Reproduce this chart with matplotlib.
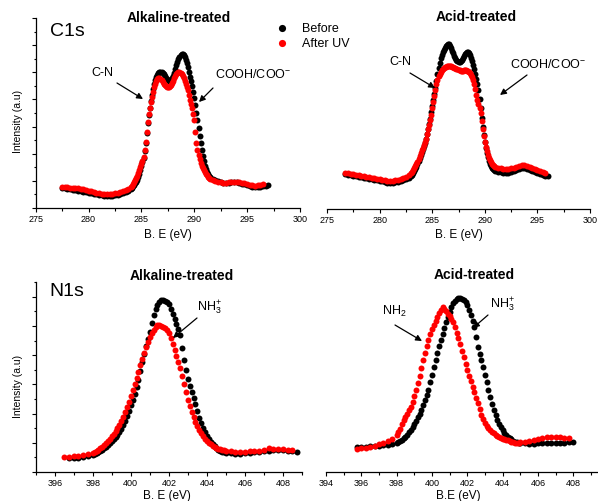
import numpy as np
import matplotlib
matplotlib.use("Agg")
import matplotlib.pyplot as plt
from matplotlib.ticker import MultipleLocator
from matplotlib.patches import FancyArrowPatch

plt.rcParams['font.family'] = ['Liberation Sans', 'DejaVu Sans']
plt.rcParams['mathtext.fontset'] = 'custom'
plt.rcParams['mathtext.rm'] = 'Liberation Sans'
plt.rcParams['mathtext.it'] = 'Liberation Sans:italic'
plt.rcParams['mathtext.bf'] = 'Liberation Sans:bold'


def grid(*segs):
    """Uniform binding-energy sampling grid built from (start, stop, step) segments."""
    return np.concatenate([np.round(np.arange(a, b + s / 2, s), 2) for a, b, s in segs])


# ---------------- DATA ----------------
# C1s, alkaline-treated
c1s_alk_before_E = grid((277.5, 284.0, 0.25), (284.1, 291.5, 0.1), (291.75, 297.0, 0.25))
c1s_alk_before_I = [20, 20, 19, 19, 18, 18, 17, 17, 16, 16, 15, 15, 14, 14, 13, 13, 12, 12, 12, 12, 13, 13, 14, 15, 16, 17, 19,
                    20, 22, 23, 25, 26, 28, 31, 34, 38,
                    42, 46, 50, 57, 65, 75, 85, 93, 100, 107,
                    113, 119, 124, 128, 131, 133, 135, 136, 136, 136,
                    135, 134, 132, 130, 129, 128, 127, 127, 128, 130,
                    132, 135, 139, 143, 146, 149, 151, 153, 154, 154,
                    153, 151, 148, 145, 141, 136, 131, 127, 122, 116,
                    110, 103, 95, 88, 80, 72, 65, 58, 52, 47,
                    42, 39, 36, 34, 32, 31,
                    29, 28, 27, 26, 25, 25, 25, 26, 26, 26, 25, 24, 24, 23, 22, 21, 21, 21, 21, 22, 22, 23]
c1s_alk_after_E = grid((277.5, 284.0, 0.25), (284.1, 291.5, 0.1), (291.75, 296.5, 0.25))
c1s_alk_after_I = [21, 21, 21, 20, 20, 20, 20, 19, 19, 18, 17, 17, 16, 15, 15, 14, 14, 14, 14, 14, 15, 15, 16, 17, 18, 19, 21,
                   22, 24, 26, 28, 30, 32, 35, 38, 41,
                   44, 47, 51, 58, 66, 76, 86, 94, 100, 106,
                   111, 116, 121, 124, 127, 129, 130, 130, 129, 128,
                   126, 124, 123, 122, 121, 121, 121, 122, 123, 125,
                   127, 130, 132, 134, 135, 136, 136, 135, 134, 132,
                   130, 127, 124, 121, 118, 113, 108, 104, 100, 94,
                   88, 76, 65, 58, 53, 49, 45, 42, 40, 38,
                   36, 34, 33, 31, 30, 29,
                   28, 27, 26, 26, 25, 25, 26, 26, 26, 26, 26, 25, 25, 24, 23, 23, 22, 23, 23, 24]

# C1s, acid-treated
c1s_acid_before_E = grid((276.75, 283.0, 0.25), (283.1, 291.0, 0.1), (291.25, 296.0, 0.25))
c1s_acid_before_I = [35, 34, 34, 33, 33, 32, 32, 31, 31, 30, 30, 29, 29, 28, 28, 27, 26, 26, 26, 27, 27, 28, 29, 30, 31, 33,
                     34, 36, 38, 40, 42, 45, 48, 51, 54,
                     57, 60, 63, 66, 70, 75, 80, 85, 90, 96,
                     102, 108, 114, 120, 127, 134, 140, 145, 150, 153,
                     156, 158, 160, 162, 163, 164, 164, 162, 160, 157,
                     155, 152, 150, 148, 147, 146, 146, 147, 148, 150,
                     152, 154, 155, 156, 156, 155, 153, 150, 147, 143,
                     139, 134, 129, 124, 118, 109, 100, 91, 82, 74,
                     67, 61, 56, 52, 48, 45, 43, 41, 40, 39,
                     38,
                     37, 37, 36, 36, 36, 37, 38, 39, 40, 41, 41, 40, 39, 38, 37, 36, 35, 34, 33, 33]
c1s_acid_after_E = grid((276.75, 283.0, 0.25), (283.1, 291.0, 0.1), (291.25, 295.75, 0.25))
c1s_acid_after_I = [36, 36, 35, 35, 34, 34, 33, 33, 32, 32, 31, 31, 30, 30, 29, 29, 28, 28, 28, 29, 29, 30, 31, 32, 34, 36,
                    37, 39, 41, 43, 45, 47, 50, 53, 56,
                    59, 61, 64, 67, 70, 75, 80, 84, 89, 94,
                    100, 106, 112, 118, 124, 128, 132, 134, 136, 138,
                    139, 140, 141, 141, 142, 142, 142, 142, 142, 141,
                    141, 140, 140, 139, 139, 138, 138, 137, 137, 137,
                    138, 138, 138, 137, 137, 136, 135, 133, 131, 128,
                    124, 119, 113, 108, 104, 100, 95, 88, 80, 73,
                    67, 62, 58, 54, 51, 49, 47, 45, 44, 43,
                    42,
                    41, 41, 40, 40, 40, 41, 41, 42, 43, 44, 44, 43, 42, 41, 40, 39, 38, 37, 36]

# N1s, alkaline-treated
n1s_alk_before_E = grid((396.75, 398.0, 0.25), (398.1, 405.0, 0.1), (405.25, 408.75, 0.25))
n1s_alk_before_I = [14, 14, 14, 15, 16, 17,
                    18, 19, 20, 21, 22, 24, 25, 27, 29,
                    31, 33, 35, 37, 40, 43, 47, 51, 56, 61,
                    67, 72, 78, 85, 92, 101, 110, 118, 126, 133,
                    140, 149, 157, 163, 167, 170, 172, 172, 171, 170,
                    168, 163, 158, 153, 148, 143, 137, 124, 112, 102,
                    93, 86, 80, 74, 68, 61, 54, 49, 44, 40,
                    36, 33, 30, 28, 26, 24, 22, 21, 20, 20,
                    19,
                    19, 18, 18, 19, 19, 20, 20, 21, 21, 22, 22, 22, 21, 21, 20]
n1s_alk_after_E = grid((396.5, 398.0, 0.25), (398.1, 405.0, 0.1), (405.25, 408.5, 0.25))
n1s_alk_after_I = [15, 15, 16, 16, 17, 18, 19,
                   20, 21, 22, 24, 25, 27, 29, 31, 33,
                   36, 38, 41, 44, 47, 51, 55, 60, 65, 70,
                   76, 82, 88, 94, 100, 107, 113, 119, 125, 130,
                   135, 139, 142, 145, 147, 147, 146, 145, 144, 142,
                   139, 134, 128, 122, 116, 110, 104, 96, 88, 80,
                   72, 66, 60, 55, 50, 46, 42, 39, 36, 33,
                   31, 29, 28, 26, 25, 24, 23, 23, 22, 22,
                   21,
                   21, 20, 20, 20, 21, 21, 21, 22, 24, 23, 23, 23, 22, 22]

# N1s, acid-treated
n1s_acid_before_E = grid((395.75, 398.0, 0.25), (398.1, 405.0, 0.1), (405.25, 408.0, 0.25))
n1s_acid_before_I = [25, 25, 25, 26, 26, 26, 27, 27, 28, 29,
                     30, 31, 32, 34, 35, 37, 40, 42, 45,
                     48, 51, 55, 58, 62, 67, 72, 77, 82, 90,
                     97, 105, 112, 119, 126, 132, 138, 144, 150, 155,
                     160, 165, 169, 171, 173, 174, 174, 173, 172, 170,
                     167, 162, 157, 151, 145, 135, 125, 118, 112, 105,
                     97, 90, 82, 75, 68, 62, 57, 52, 48, 45,
                     42, 39, 37, 35, 34, 33, 31, 30, 30, 29,
                     29,
                     29, 28, 28, 29, 29, 29, 29, 29, 29, 29, 30, 30]
n1s_acid_after_E = grid((395.75, 398.0, 0.25), (398.1, 405.0, 0.1), (405.25, 407.75, 0.25))
n1s_acid_after_I = [23, 24, 24, 25, 26, 28, 29, 31, 33, 37,
                    40, 43, 48, 52, 55, 58, 62, 65, 70,
                    76, 82, 89, 96, 104, 112, 119, 126, 132, 138,
                    143, 147, 151, 155, 159, 162, 165, 163, 161, 158,
                    156, 153, 150, 145, 139, 134, 128, 121, 115, 108,
                    102, 96, 91, 85, 80, 74, 69, 63, 57, 53,
                    49, 46, 44, 42, 40, 39, 37, 36, 35, 34,
                    33, 33, 32, 32, 31, 30, 30, 29, 29, 29,
                    30,
                    30, 31, 32, 33, 34, 35, 35, 35, 35, 34, 34]

panel_titles = ["Alkaline-treated", "Acid-treated", "Alkaline-treated", "Acid-treated"]
series_labels = ["Before", "After UV"]
x_labels = ["B. E (eV)", "B. E (eV)", "B. E (eV)", "B.E (eV)"]
y_label = "Intensity (a.u)"

# ---------------- FIGURE ----------------
W, H = 598, 501
fig = plt.figure(figsize=(W / 100, H / 100), dpi=100)


def box(l, r, t, b):
    return [l / W, 1 - b / H, (r - l) / W, (b - t) / H]


def fp(x, y):
    return (x / W, 1 - y / H)


ax_tl = fig.add_axes(box(35.7, 300, 18, 208))
ax_tr = fig.add_axes(box(327, 590, 18, 209))
ax_bl = fig.add_axes(box(35.7, 302, 282, 472))
ax_br = fig.add_axes(box(326, 598, 282, 472))

BLACK = "#000000"
RED = "#ff0000"
MS = 4.3

panels = [
    (ax_tl, c1s_alk_before_E, c1s_alk_before_I, c1s_alk_after_E, c1s_alk_after_I, (275, 300), 5, 2.5),
    (ax_tr, c1s_acid_before_E, c1s_acid_before_I, c1s_acid_after_E, c1s_acid_after_I, (275, 300), 5, 2.5),
    (ax_bl, n1s_alk_before_E, n1s_alk_before_I, n1s_alk_after_E, n1s_alk_after_I, (395, 409), 2, 1),
    (ax_br, n1s_acid_before_E, n1s_acid_before_I, n1s_acid_after_E, n1s_acid_after_I, (394, 409.4), 2, 1),
]

handles = None
for i, (ax, bE, bI, aE, aI, xl, maj, mnr) in enumerate(panels):
    h1, = ax.plot(bE, bI, 'o', color=BLACK, ms=MS, mew=0, ls='none')
    h2, = ax.plot(aE, aI, 'o', color=RED, ms=MS, mew=0, ls='none')
    if handles is None:
        handles = [h1, h2]
    ax.set_xlim(*xl)
    ax.set_ylim(0, 190)
    ax.xaxis.set_major_locator(MultipleLocator(maj))
    ax.xaxis.set_minor_locator(MultipleLocator(mnr))
    for s in ['top', 'right']:
        ax.spines[s].set_visible(False)
    for s in ['left', 'bottom']:
        ax.spines[s].set_linewidth(0.9)
    ax.tick_params(axis='x', which='major', direction='out', length=3, width=0.8, labelsize=6.5, pad=2)
    ax.tick_params(axis='x', which='minor', direction='out', length=1.8, width=0.8)
    if i in (0, 2):
        step = 190 / 7 if i == 0 else 29.2
        ax.yaxis.set_major_locator(MultipleLocator(step))
        ax.yaxis.set_minor_locator(MultipleLocator(step / 2))
        ax.tick_params(axis='y', which='major', direction='out', length=3, width=0.8, labelleft=False)
        ax.tick_params(axis='y', which='minor', direction='out', length=1.8, width=0.8)
    else:
        ax.spines['left'].set_visible(False)
        ax.tick_params(axis='y', which='both', left=False, labelleft=False)
    ax.patch.set_alpha(0)

# titles
title_pos = [(179, 18), (476, 17), (182, 276), (474, 275)]
for t, (x, y) in zip(panel_titles, title_pos):
    fig.text(*fp(x, y), t, ha='center', va='center', fontsize=10, fontweight='bold')

# x labels
xl_pos = [(168, 235), (459, 235), (167, 496), (458, 496)]
for t, (x, y) in zip(x_labels, xl_pos):
    fig.text(*fp(x, y), t, ha='center', va='center', fontsize=8.5)

# y labels
for (x, y) in [(18, 121), (18, 386)]:
    fig.text(*fp(x, y), y_label, ha='center', va='center', fontsize=7.5, rotation=90)

# core-level labels
fig.text(*fp(67, 32), "C1s", ha='center', va='center', fontsize=14)
fig.text(*fp(67, 292), "N1s", ha='center', va='center', fontsize=14)

# legend
fig.legend(handles, series_labels, loc='upper left', bbox_to_anchor=fp(277, 23), frameon=False,
           fontsize=9, handlelength=0.8, handletextpad=1.2, labelspacing=0.25, borderpad=0,
           borderaxespad=0, markerscale=1.2)

# annotations
ann = [
    ("C-N", (102, 73), (117, 83), (143, 99)),
    (r"$\mathrm{COOH/COO}^{-}$", (253, 74), (213, 88), (199, 102)),
    ("C-N", (400, 62), (410, 73), (435, 88)),
    (r"$\mathrm{COOH/COO}^{-}$", (548, 64), (527, 75), (500, 95)),
    (r"$\mathrm{NH}_3^{+}$", (209, 308), (197, 318), (173, 338)),
    (r"$\mathrm{NH}_2$", (394, 311), (395, 325), (422, 341)),
    (r"$\mathrm{NH}_3^{+}$", (502, 305), (488, 315), (473, 328)),
]
for txt, tpos, a0, a1 in ann:
    fig.text(*fp(*tpos), txt, ha='center', va='center', fontsize=9)
    fig.add_artist(FancyArrowPatch(
        fp(*a0), fp(*a1), transform=fig.transFigure, arrowstyle='-|>',
        mutation_scale=9, lw=0.9, color='black', shrinkA=0, shrinkB=0))

fig.savefig("out.png", dpi=100)
